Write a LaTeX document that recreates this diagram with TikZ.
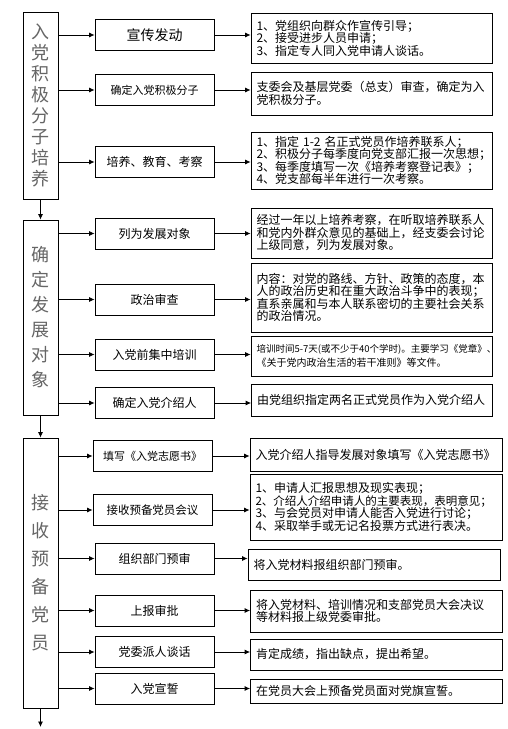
\documentclass[tikz,border=0pt]{standalone}
\usepackage{fontspec}
\setmainfont{Noto Sans CJK SC}
\usetikzlibrary{arrows.meta, positioning}

\begin{document}
\begin{tikzpicture}[x=1pt, y=-1pt, line width=0.8pt,
  stage/.style={draw, minimum width=35pt, inner sep=0pt, align=center, text=black!60},
  stepbox/.style={draw, minimum width=119pt, minimum height=31pt, inner sep=1pt, font=\fontsize{12}{14}\selectfont},
  note/.style={draw, inner xsep=5.5pt, inner ysep=1pt, align=left, text width=230pt, font=\fontsize{12}{12.5}\selectfont},
  wide/.style={text width=241pt},
  arr/.style={-{Latex[length=5.5pt, width=5pt]}},
]
  \useasboundingbox (0,0) rectangle (508,729);

  % stages on the left
  \node[stage, minimum height=187pt, font=\fontsize{18}{21}\selectfont] (st1) at (40.5,105.5)
    {入\\党\\积\\极\\分\\子\\培\\养};
  \node[stage, minimum height=195pt, font=\fontsize{18}{25}\selectfont] (st2) at (40.5,317.5)
    {确\\定\\发\\展\\对\\象};
  \node[stage, minimum height=270pt, font=\fontsize{18}{28}\selectfont] (st3) at (40.5,573)
    {接\\收\\预\\备\\党\\员};

  % steps
  \node[stepbox, font=\fontsize{14}{16}\selectfont] (s11) at (154.5,35) {宣传发动};
  \node[stepbox, font=\fontsize{11}{13}\selectfont] (s12) at (154.5,90) {确定入党积极分子};
  \node[stepbox] (s13) at (154.5,162) {培养、教育、考察};
  \node[stepbox] (s21) at (154.5,233.5) {列为发展对象};
  \node[stepbox] (s22) at (154.5,299.5) {政治审查};
  \node[stepbox] (s23) at (154.5,354.5) {入党前集中培训};
  \node[stepbox] (s24) at (154.5,403) {确定入党介绍人};
  \node[stepbox, font=\fontsize{11}{13}\selectfont] (s31) at (152.5,456) {填写《入党志愿书》};
  \node[stepbox, font=\fontsize{11.5}{13}\selectfont] (s32) at (152.5,510) {接收预备党员会议};
  \node[stepbox] (s33) at (154.5,558.5) {组织部门预审};
  \node[stepbox] (s34) at (154.5,610.5) {上报审批};
  \node[stepbox] (s35) at (154.5,652) {党委派人谈话};
  \node[stepbox] (s36) at (154.5,688.5) {入党宣誓};

  % notes on the right
  \node[note, minimum height=50pt] (n11) at (371.5,38)
    {1、党组织向群众作宣传引导；\\2、接受进步人员申请；\\3、指定专人同入党申请人谈话。};
  \node[note, minimum height=43pt] (n12) at (371.5,93.5)
    {支委会及基层党委（总支）审查，确定为入\\党积极分子。};
  \node[note, minimum height=57pt] (n13) at (371.5,160.5)
    {1、指定 1-2 名正式党员作培养联系人；\\2、积极分子每季度向党支部汇报一次思想；\\3、每季度填写一次《培养考察登记表》；\\4、党支部每半年进行一次考察。};
  \node[note, minimum height=50pt] (n21) at (371.5,233)
    {经过一年以上培养考察，在听取培养联系人\\和党内外群众意见的基础上，经支委会讨论\\上级同意，列为发展对象。};
  \node[note, minimum height=69pt] (n22) at (371.5,297.5)
    {内容：对党的路线、方针、政策的态度，本\\人的政治历史和在重大政治斗争中的表现；\\直系亲属和与本人联系密切的主要社会关系\\的政治情况。};
  \node[note, minimum height=40pt, font=\fontsize{10}{14}\selectfont] (n23) at (371.5,356)
    {\mbox{\fontsize{9.5}{14}\selectfont 培训时间5-7天(或不少于40个学时)。主要学习《党章》、}\\《关于党内政治生活的若干准则》等文件。};
  \node[note, minimum height=32pt] (n24) at (372,400)
    {由党组织指定两名正式党员作为入党介绍人};
  \node[note, wide, minimum height=33pt] (n31) at (376,454.5)
    {入党介绍人指导发展对象填写《入党志愿书》};
  \node[note, wide, minimum height=66pt] (n32) at (376,507)
    {1、申请人汇报思想及现实表现；\\{\fontsize{11.5}{12.5}\selectfont 2、介绍人介绍申请人的主要表现，表明意见；}\\3、与会党员对申请人能否入党进行讨论；\\4、采取举手或无记名投票方式进行表决。};
  \node[note, wide, minimum height=31pt] (n33) at (374,564.5)
    {将入党材料报组织部门预审。};
  \node[note, wide, minimum height=42pt] (n34) at (376.5,611)
    {将入党材料、培训情况和支部党员大会决议\\等材料报上级党委审批。};
  \node[note, wide, minimum height=31pt] (n35) at (376.5,654.5)
    {肯定成绩，指出缺点，提出希望。};
  \node[note, wide, minimum height=24pt] (n36) at (376.5,691)
    {在党员大会上预备党员面对党旗宣誓。};

  % connectors
  \draw[arr] (st1.south) -- (st2.north);
  \draw[arr] (st2.south) -- (st3.north);
  \coordinate (tail) at (40.5,727);
  \draw[arr] (st3.south) -- (tail);
  \foreach \st/\s/\n in {st1/s11/n11, st1/s12/n12, st1/s13/n13,
      st2/s21/n21, st2/s22/n22, st2/s23/n23, st2/s24/n24,
      st3/s31/n31, st3/s32/n32, st3/s33/n33, st3/s34/n34, st3/s35/n35, st3/s36/n36} {
    \draw[arr] (\st.east |- \s.west) -- (\s.west);
    \draw[arr] (\s.east) -- (\s.east -| \n.west);
  }
\end{tikzpicture}
\end{document}
